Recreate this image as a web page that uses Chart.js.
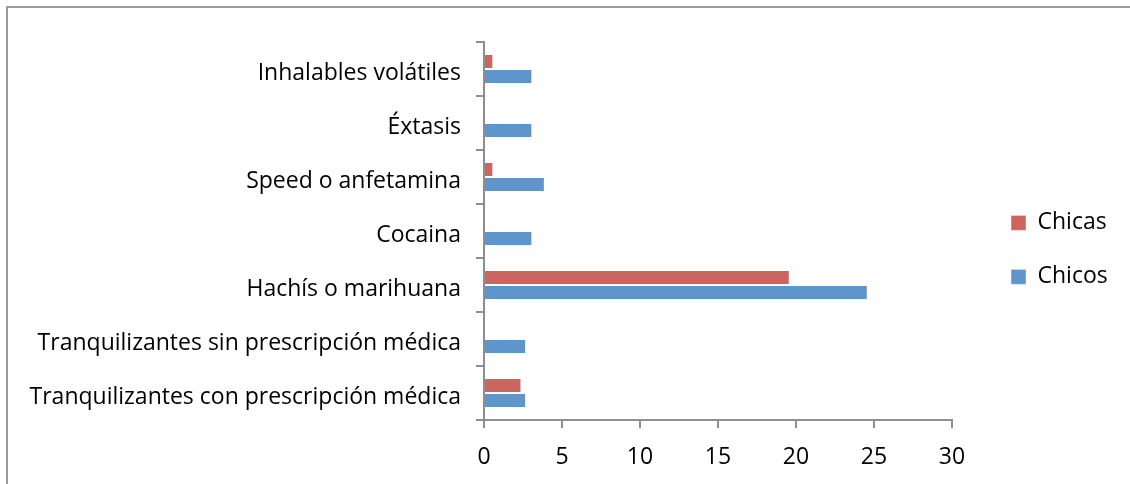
<!DOCTYPE html>
<html>
<head>
<meta charset="utf-8">
<script src="https://cdn.jsdelivr.net/npm/chart.js@4/dist/chart.umd.min.js"></script>
<style>
  html, body { margin: 0; padding: 0; background: #fff; overflow: hidden; }
  #wrap { position: relative; width: 1130px; height: 484px; }
  #frame { position: absolute; left: 6px; top: 6px; width: 1200px; height: 600px; border: 2px solid #9b9b9b; box-sizing: border-box; }
  #chart { position: absolute; left: 0; top: 0; }
</style>
</head>
<body>
<div id="wrap">
  <div id="frame"></div>
  <canvas id="chart" width="1130" height="484"></canvas>
</div>
<script>
// Substances, listed top to bottom
const categories = [
  'Inhalables volátiles',
  'Éxtasis',
  'Speed o anfetamina',
  'Cocaina',
  'Hachís o marihuana',
  'Tranquilizantes sin prescripción médica',
  'Tranquilizantes con prescripción médica'
];
// Percentages per group
const chicas = [0.6, 0, 0.6, 0, 19.6, 0, 2.4];
const chicos = [3.1, 3.1, 3.9, 3.1, 24.6, 2.7, 2.7];
const seriesNames = ['Chicas', 'Chicos'];
const xTicks = [0, 5, 10, 15, 20, 25, 30];

const FONT = '"Open Sans", sans-serif';
const FS = 23;
const AXIS = '#8e8e8e';

// Keeps the legend column at a fixed width so the plot ends where it should
const fixedLegendWidth = {
  id: 'fixedLegendWidth',
  afterInit(chart) {
    const lg = chart.legend;
    if (!lg) return;
    const fit = lg.fit;
    lg.fit = function () { fit.call(this); this.width = 150; };
  }
};

new Chart(document.getElementById('chart'), {
  type: 'bar',
  data: {
    labels: categories,
    datasets: [
      { label: seriesNames[0], data: chicas, backgroundColor: '#cd655f',
        borderColor: 'rgba(255,255,255,0.45)', borderWidth: 1, borderSkipped: 'start' },
      { label: seriesNames[1], data: chicos, backgroundColor: '#5e95ca',
        borderColor: 'rgba(255,255,255,0.45)', borderWidth: 1, borderSkipped: 'start' }
    ]
  },
  plugins: [fixedLegendWidth],
  options: {
    indexAxis: 'y',
    responsive: false,
    animation: false,
    datasets: { bar: { barPercentage: 1.0, categoryPercentage: 0.556 } },
    layout: { padding: { top: 42, bottom: 0, left: 0, right: 0 } },
    plugins: {
      tooltip: { enabled: false },
      legend: {
        position: 'right',
        align: 'start',
        title: { display: true, text: '', font: { size: 12 }, padding: { top: 124, bottom: 0 } },
        labels: {
          boxWidth: 15, boxHeight: 15, padding: 31,
          color: '#000',
          font: { family: FONT, size: FS }
        }
      }
    },
    scales: {
      x: {
        min: xTicks[0], max: xTicks[xTicks.length - 1],
        afterBuildTicks(s) { s.ticks = xTicks.map(v => ({ value: v })); },
        afterFit(s) { s.height = 64; },
        grid: { drawOnChartArea: false, drawTicks: true, tickLength: 8, color: AXIS, lineWidth: 2 },
        border: { display: true, color: AXIS, width: 2 },
        ticks: { color: '#000', padding: 16, font: { family: FONT, size: FS } }
      },
      y: {
        afterFit(s) { s.width = 484; },
        grid: { offset: true, drawOnChartArea: false, drawTicks: true, tickLength: 8, color: AXIS, lineWidth: 2 },
        border: { display: true, color: AXIS, width: 2 },
        ticks: { color: '#000', padding: 15, labelOffset: 4, font: { family: FONT, size: FS } }
      },
      gap: {
        type: 'linear', position: 'right', display: true,
        grid: { display: false }, border: { display: false }, ticks: { display: false },
        afterFit(s) { s.width = 28; }
      }
    }
  }
});
</script>
</body>
</html>
